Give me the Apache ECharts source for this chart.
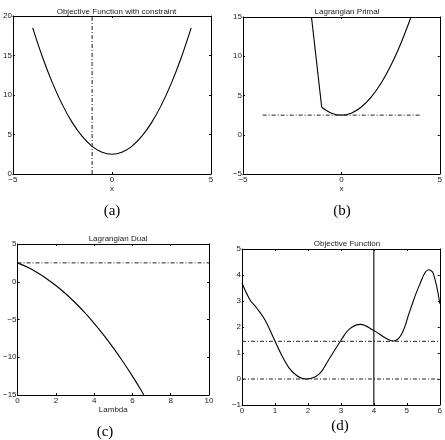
<!DOCTYPE html>
<html>
<head>
<meta charset="utf-8">
<script src="https://cdn.jsdelivr.net/npm/echarts@6/dist/echarts.min.js"></script>
<style>
  html, body { margin: 0; padding: 0; background: #fff; }
  #main { width: 445px; height: 440px; }
</style>
</head>
<body>
<div id="main"></div>
<script>
  // (a) objective with constraint x <= -1
  var objX = [-4, -3.5, -3, -2.5, -2, -1.5, -1, -0.5, 0, 0.5, 1, 1.5, 2, 2.5, 3, 3.5, 4];
  var objY = [18.5, 14.75, 11.5, 8.75, 6.5, 4.75, 3.5, 2.75, 2.5, 2.75, 3.5, 4.75, 6.5, 8.75, 11.5, 14.75, 18.5];
  var constraintX = -1;

  // (b) lagrangian primal
  var primalWallX = [-1.52, -1];
  var primalWallY = [15, 3.5];
  var primalX = [-1, -0.5, 0, 0.5, 1, 1.5, 2, 2.5, 3, 3.54];
  var primalY = [3.5, 2.75, 2.5, 2.75, 3.5, 4.75, 6.5, 8.75, 11.5, 15];
  var primalLevel = 2.5;

  // (c) lagrangian dual
  var dualX = [0, 0.5, 1, 1.5, 2, 2.5, 3, 3.5, 4, 4.5, 5, 5.5, 6, 6.5, 6.6];
  var dualY = [2.5, 1.94, 1.25, 0.44, -0.5, -1.56, -2.75, -4.06, -5.5, -7.06, -8.75, -10.56, -12.5, -14.56, -15];
  var dualLevel = 2.5;

  // (d) objective function
  var fX = [0, 0.24, 0.44, 0.69, 1.0, 1.24, 1.54, 1.94, 2.34, 2.64, 2.99, 3.24, 3.59, 3.99, 4.34, 4.59, 4.84, 5.09, 5.39, 5.66, 5.8, 6];
  var fY = [3.69, 3.05, 2.74, 2.29, 1.46, 0.83, 0.26, 0, 0.19, 0.76, 1.46, 1.9, 2.1, 1.87, 1.59, 1.46, 1.72, 2.61, 3.63, 4.2, 4.07, 2.9];
  var fLevels = [0, 1.45];
  var fMarkX = 4;

  var titles = ['Objective Function with constraint', 'Lagrangian Primal', 'Lagrangian Dual', 'Objective Function'];
  var captions = ['(a)', '(b)', '(c)', '(d)'];

  var font = '"Liberation Sans", Arial, sans-serif';
  var grids = [
    { left: 12, top: 16, width: 199, height: 158 },
    { left: 243, top: 17, width: 198, height: 157 },
    { left: 17, top: 244, width: 192, height: 151 },
    { left: 242, top: 249, width: 200, height: 156 }
  ];
  var xr = [[-5, 5, 5], [-5, 5, 5], [0, 10, 2], [0, 6, 1]];
  var yr = [[0, 20, 5], [-5, 15, 5], [-15, 5, 5], [-1, 5, 1]];
  var xNames = ['x', 'x', 'Lambda', ''];

  function zip(xs, ys) {
    return xs.map(function (x, i) { return [x, ys[i]]; });
  }
  function minus(v) {
    return String(v).replace('-', '\u2212');
  }

  var xAxes = [], yAxes = [];
  grids.forEach(function (g, i) {
    ['bottom', 'top'].forEach(function (pos) {
      xAxes.push({
        type: 'value', gridIndex: i, position: pos,
        min: xr[i][0], max: xr[i][1], interval: xr[i][2],
        name: pos === 'bottom' ? xNames[i] : '',
        nameLocation: 'middle', nameGap: 11,
        nameTextStyle: { fontFamily: font, fontSize: 8, color: '#222' },
        axisLine: { show: true, onZero: false, lineStyle: { color: '#000', width: 1 } },
        axisTick: { show: true, inside: true, length: 2, lineStyle: { color: '#000' } },
        axisLabel: { show: pos === 'bottom', margin: 2, fontFamily: font, fontSize: 8, color: '#222', formatter: minus, showMinLabel: true, showMaxLabel: true },
        splitLine: { show: false }
      });
    });
    ['left', 'right'].forEach(function (pos) {
      yAxes.push({
        type: 'value', gridIndex: i, position: pos,
        min: yr[i][0], max: yr[i][1], interval: yr[i][2],
        axisLine: { show: true, onZero: false, lineStyle: { color: '#000', width: 1 } },
        axisTick: { show: true, inside: true, length: 2, lineStyle: { color: '#000' } },
        axisLabel: { show: pos === 'left', margin: 1, fontFamily: font, fontSize: 8, color: '#222', formatter: minus, showMinLabel: true, showMaxLabel: true },
        splitLine: { show: false }
      });
    });
  });

  var solid = { color: '#000', width: 1.1 };
  var dashdot = { color: '#222', width: 1, type: [4, 2, 1, 2] };

  function line(i, data, style, smooth) {
    return {
      type: 'line', xAxisIndex: i * 2, yAxisIndex: i * 2,
      data: data, showSymbol: false, symbol: 'none', smooth: smooth || false,
      lineStyle: style, silent: true, animation: false
    };
  }

  var series = [
    line(0, zip(objX, objY), solid, 0.35),
    line(0, [[constraintX, 0], [constraintX, 20]], dashdot),
    line(1, zip(primalWallX, primalWallY), solid),
    line(1, zip(primalX, primalY), solid, 0.35),
    line(1, [[-4, primalLevel], [4, primalLevel]], dashdot),
    line(2, zip(dualX, dualY), solid, 0.35),
    line(2, [[0, dualLevel], [10, dualLevel]], dashdot),
    line(3, zip(fX, fY), solid, 0.4),
    line(3, [[0, fLevels[0]], [6, fLevels[0]]], dashdot),
    line(3, [[0, fLevels[1]], [6, fLevels[1]]], dashdot),
    line(3, [[fMarkX, -1], [fMarkX, 5]], solid)
  ];

  var titleTops = [3, 3, 230, 235];
  var titleOpt = titles.map(function (t, i) {
    return {
      text: t, left: grids[i].left + grids[i].width / 2, top: titleTops[i], textAlign: 'center',
      textStyle: { fontFamily: font, fontSize: 8, fontWeight: 'normal', color: '#222' }
    };
  });

  var capPos = [[112, 211], [342, 211], [105, 432], [340, 426]];
  var graphic = captions.map(function (c, i) {
    return {
      type: 'text', x: capPos[i][0], y: capPos[i][1],
      style: { text: c, font: '15px "Liberation Serif", "DejaVu Serif", serif', fill: '#000', align: 'center', verticalAlign: 'middle' }
    };
  });

  var chart = echarts.init(document.getElementById('main'));
  chart.setOption({
    animation: false,
    title: titleOpt,
    grid: grids,
    xAxis: xAxes,
    yAxis: yAxes,
    series: series,
    graphic: graphic
  });
</script>
</body>
</html>
